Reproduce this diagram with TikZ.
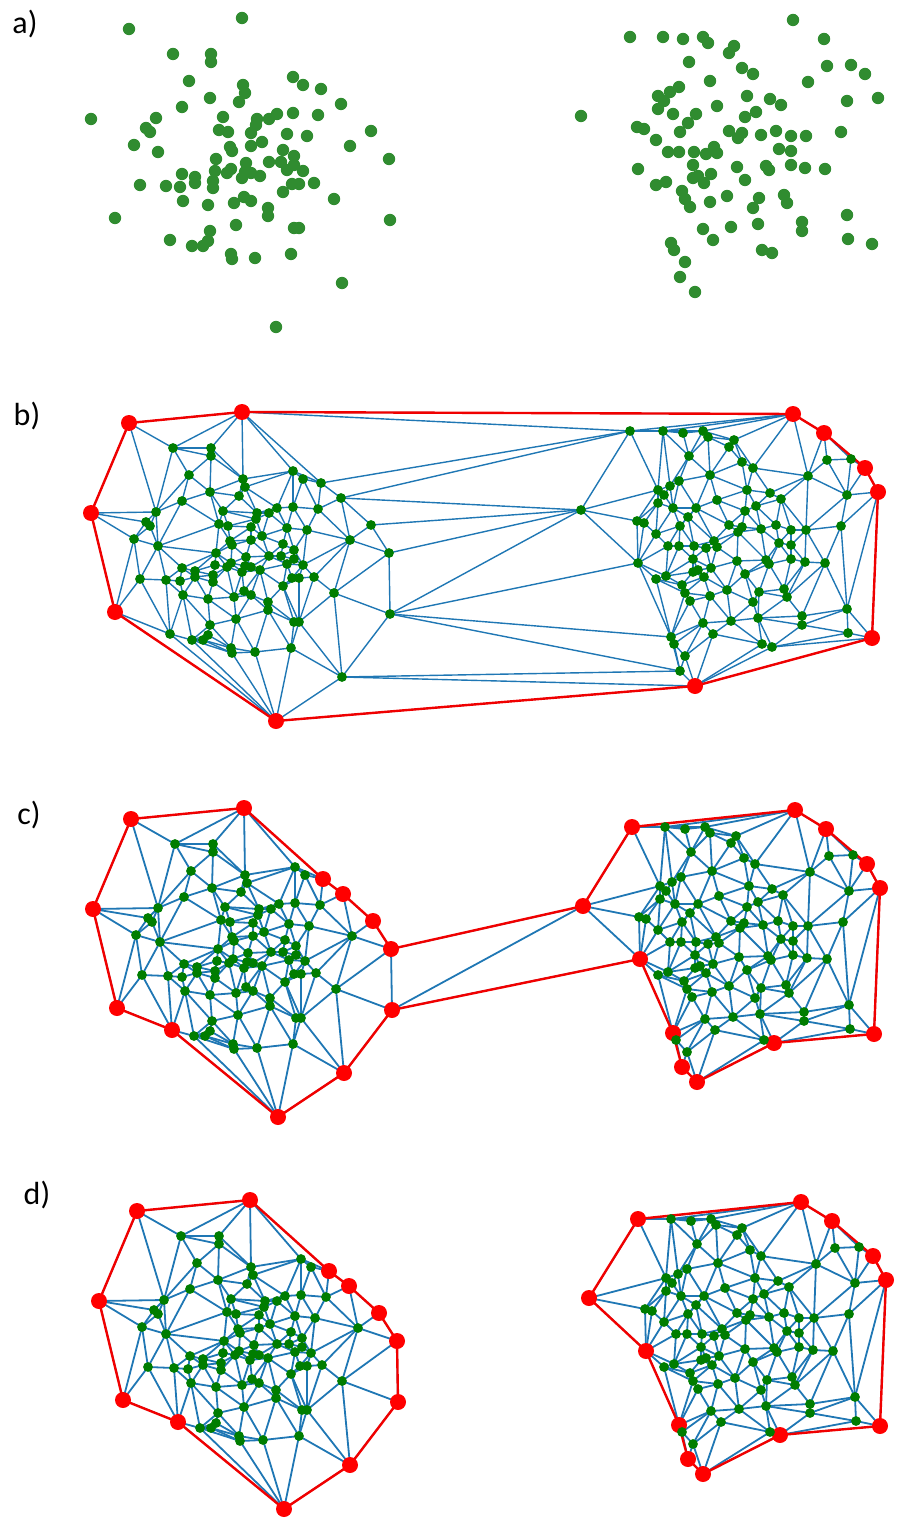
\documentclass[tikz,border=0pt]{standalone}
\usepackage{fontspec}
\setmainfont{Carlito}
\definecolor{ptgreen}{RGB}{48,140,48}
\definecolor{dgreen}{RGB}{0,125,0}
\definecolor{eblue}{RGB}{31,119,180}
\definecolor{hred}{RGB}{240,0,0}

% ---------- point store ----------
\newcount\DLn \DLn=0
\newcount\DLe \DLe=0
\newcount\DLi \newcount\DLj \newcount\DLk
\newcount\DLax \newcount\DLay \newcount\DLbx \newcount\DLby
\newcount\DLnx \newcount\DLny \newcount\DLaa \newcount\DLsx \newcount\DLsy
\newcount\DLpx \newcount\DLpy \newcount\DLs \newcount\DLt \newcount\DLlo \newcount\DLhi
\newcount\DLnum
\newif\ifDLl \newif\ifDLr \newif\ifDLbad

\newcommand\addpt[2]{\global\advance\DLn by 1
  \expandafter\xdef\csname DLX\the\DLn\endcsname{#1}%
  \expandafter\xdef\csname DLY\the\DLn\endcsname{#2}}

% boundary points first (1-12 left, 13-24 right), then interior points
\foreach \x/\y in {242/18,321/89,341/104,371/131,389/159,390/220,342/283,276/327,170/240,115/218,91/119,129/29,
 581/116,630/37,793/20,824/39,865/74,878/98,872/244,772/253,695/292,680/277,671/243,638/169,
 173/54,211/54,211/62,189/81,243/85,245/93,210/98,239/102,182/107,156/118,146/128,150/132,
 223/117,219/130,228/132,134/145,158/152,230/147,232/151,216/159,246/163,293/77,303/85,
 257/119,256/125,251/133,269/119,277/114,293/113,318/115,287/134,307/136,262/142,251/146,
 283/150,350/146,294/156,269/162,281/162,287/170,294/165,303/171,215/171,227/173,231/169,
 182/174,140/185,166/186,180/187,195/177,195/183,213/181,213/188,242/178,245/172,251/173,
 260/176,292/184,299/184,314/183,283/192,334/199,183/201,208/205,234/203,244/197,251/201,
 268/208,268/216,236/225,210/231,192/246,203/246,208/241,231/254,232/259,294/228,299/228,
 255/258,291/254,
 663/37,683/39,703/37,708/43,734/46,729/53,689/62,742/68,753/74,827/66,851/65,710/81,
 808/82,679/87,670/92,658/96,664/101,658/109,673/114,717/106,696/114,688/123,747/96,
 770/99,781/105,756/112,745/117,847/101,637/127,644/129,680/132,729/131,742/133,738/138,
 761/135,776/131,791/136,806/136,841/132,656/140,668/152,679/152,694/152,706/154,714/147,
 717/153,779/149,791/151,693/165,656/185,666/182,693/178,698/176,704/183,711/174,682/191,
 685/199,690/207,710/202,727/196,703/229,731/227,713/240,674/250,685/262,737/167,766/166,
 769/170,791/165,805/168,825/169,745/180,759/198,784/195,787/203,753/208,847/215,758/224,
 802/222,802/231,848/239,762/250}{\addpt{\x}{\y}}

% ---------- Delaunay edges by the empty-circle test ----------
\def\DLtestk{%
  \DLpx=\numexpr2*\csname DLX\the\DLk\endcsname-\DLsx\relax
  \DLpy=\numexpr2*\csname DLY\the\DLk\endcsname-\DLsy\relax
  \DLs=\numexpr\DLnx*\DLpx+\DLny*\DLpy\relax
  \ifnum\DLs=0 \else
    \DLnum=\numexpr\DLpx*\DLpx+\DLpy*\DLpy-\DLaa\relax
    \DLt=\numexpr\DLnum*500/\DLs\relax
    \ifnum\DLs>0
      \ifDLr \ifnum\DLt<\DLhi \DLhi=\DLt\fi \else \DLhi=\DLt \DLrtrue \fi
    \else
      \ifDLl \ifnum\DLt>\DLlo \DLlo=\DLt\fi \else \DLlo=\DLt \DLltrue \fi
    \fi
    \ifDLl\ifDLr\ifnum\DLlo>\DLhi \DLbadtrue\fi\fi\fi
  \fi}
\def\DLloopK{%
  \advance\DLk by 1
  \let\DLnextK\relax
  \ifnum\DLk>\DLn\else
    \ifnum\DLk=\DLi\else\ifnum\DLk=\DLj\else\DLtestk\fi\fi
    \ifDLbad\else\let\DLnextK\DLloopK\fi
  \fi
  \DLnextK}
\def\DLtestpair{%
  \DLax=\csname DLX\the\DLi\endcsname\relax
  \DLay=\csname DLY\the\DLi\endcsname\relax
  \DLbx=\csname DLX\the\DLj\endcsname\relax
  \DLby=\csname DLY\the\DLj\endcsname\relax
  \DLnx=\numexpr\DLay-\DLby\relax
  \DLny=\numexpr\DLbx-\DLax\relax
  \DLaa=\numexpr\DLnx*\DLnx+\DLny*\DLny\relax
  \DLsx=\numexpr\DLax+\DLbx\relax
  \DLsy=\numexpr\DLay+\DLby\relax
  \DLlfalse\DLrfalse\DLbadfalse
  \DLk=0
  \DLloopK
  \ifDLbad\else
    \global\advance\DLe by 1
    \expandafter\xdef\csname DLEa\the\DLe\endcsname{\the\DLi}%
    \expandafter\xdef\csname DLEb\the\DLe\endcsname{\the\DLj}%
    \ifDLl\ifDLr\DLbadtrue\fi\fi
    \ifDLbad
      \expandafter\xdef\csname DLEh\the\DLe\endcsname{0}%
    \else
      \expandafter\xdef\csname DLEh\the\DLe\endcsname{1}%
      \expandafter\xdef\csname DLV\the\DLi\endcsname{1}%
      \expandafter\xdef\csname DLV\the\DLj\endcsname{1}%
    \fi
  \fi}
\def\DLloopJ{%
  \advance\DLj by 1
  \ifnum\DLj>\DLn \let\DLnextJ\relax \else \DLtestpair \let\DLnextJ\DLloopJ \fi
  \DLnextJ}
\def\DLloopI{%
  \ifnum\DLi<\DLn \DLj=\DLi \DLloopJ \advance\DLi by 1 \let\DLnextI\DLloopI
  \else \let\DLnextI\relax \fi
  \DLnextI}
\DLi=1 \DLloopI
\edef\NP{\the\DLn}
\edef\NE{\the\DLe}

% ---------- drawing helpers ----------
\newcommand\mkcoords[3]{%
  \foreach \i in {1,...,\NP}{%
    \edef\px{\csname DLX\i\endcsname}\edef\py{\csname DLY\i\endcsname}%
    \coordinate (#1\i) at (\px+#2,\py+#3);}}
\newcommand\drawedges[2]{%
  \foreach \e in {1,...,\NE}{%
    \edef\ea{\csname DLEa\e\endcsname}\edef\eb{\csname DLEb\e\endcsname}%
    \draw[#2] (#1\ea) -- (#1\eb);}}

\begin{document}
\begin{tikzpicture}[x=0.5pt,y=-0.5pt,
  lbl/.style={font=\fontsize{16}{18}\selectfont,inner sep=0pt},
  adot/.style={circle,fill=ptgreen,inner sep=0pt,minimum size=6.2pt},
  gdot/.style={circle,fill=dgreen,inner sep=0pt,minimum size=4.9pt},
  rdot/.style={circle,fill=red,inner sep=0pt,minimum size=8pt},
  bedge/.style={draw=eblue,line width=0.7pt,line cap=round},
  cedge/.style={draw=eblue,line width=0.9pt,line cap=round},
  hedge/.style={draw=hred,line width=1.2pt,line cap=round,line join=round}]
\useasboundingbox (0,0) rectangle (902,1519);

\mkcoords{a}{0}{0}
\mkcoords{b}{0}{394}
\mkcoords{c}{2}{790}
\mkcoords{d}{8}{1182}

% labels
\node[lbl] (la) at (25,24) {a)};
\node[lbl] (lb) at (27,416) {b)};
\node[lbl] (lc) at (29,815) {c)};
\node[lbl] (ld) at (37,1195) {d)};

% ---- a) ----
\foreach \i in {1,...,\NP}{\node[adot] (an\i) at (a\i) {};}

% ---- b) ----
\drawedges{b}{bedge}
\foreach \e in {1,...,\NE}{%
  \edef\eh{\csname DLEh\e\endcsname}%
  \ifnum\eh=1
    \edef\ea{\csname DLEa\e\endcsname}\edef\eb{\csname DLEb\e\endcsname}%
    \draw[hedge] (b\ea) -- (b\eb);
  \fi}
\foreach \i in {1,...,\NP}{%
  \ifcsname DLV\i\endcsname \node[rdot] (bn\i) at (b\i) {};
  \else \node[gdot] (bn\i) at (b\i) {};\fi}

% ---- c) ----
\begin{scope}
\clip (c1)--(c2)--(c3)--(c4)--(c5)--(c13)--(c14)--(c15)--(c16)--(c17)--(c18)--(c19)--(c20)--(c21)--(c22)--(c23)--(c24)--(c6)--(c7)--(c8)--(c9)--(c10)--(c11)--(c12)--cycle;
\drawedges{c}{cedge}
\end{scope}
\draw[hedge] (c1)--(c2)--(c3)--(c4)--(c5)--(c13)--(c14)--(c15)--(c16)--(c17)--(c18)--(c19)--(c20)--(c21)--(c22)--(c23)--(c24)--(c6)--(c7)--(c8)--(c9)--(c10)--(c11)--(c12)--cycle;
\foreach \i in {1,...,\NP}{%
  \ifnum\i<25 \node[rdot] (cn\i) at (c\i) {};
  \else \node[gdot] (cn\i) at (c\i) {};\fi}

% ---- d) ----
\begin{scope}
\clip (d1)--(d2)--(d3)--(d4)--(d5)--(d6)--(d7)--(d8)--(d9)--(d10)--(d11)--(d12)--cycle
      (d13)--(d14)--(d15)--(d16)--(d17)--(d18)--(d19)--(d20)--(d21)--(d22)--(d23)--(d24)--cycle;
\drawedges{d}{cedge}
\end{scope}
\draw[hedge] (d1)--(d2)--(d3)--(d4)--(d5)--(d6)--(d7)--(d8)--(d9)--(d10)--(d11)--(d12)--cycle;
\draw[hedge] (d13)--(d14)--(d15)--(d16)--(d17)--(d18)--(d19)--(d20)--(d21)--(d22)--(d23)--(d24)--cycle;
\foreach \i in {1,...,\NP}{%
  \ifnum\i<25 \node[rdot] (dn\i) at (d\i) {};
  \else \node[gdot] (dn\i) at (d\i) {};\fi}
\end{tikzpicture}
\end{document}
